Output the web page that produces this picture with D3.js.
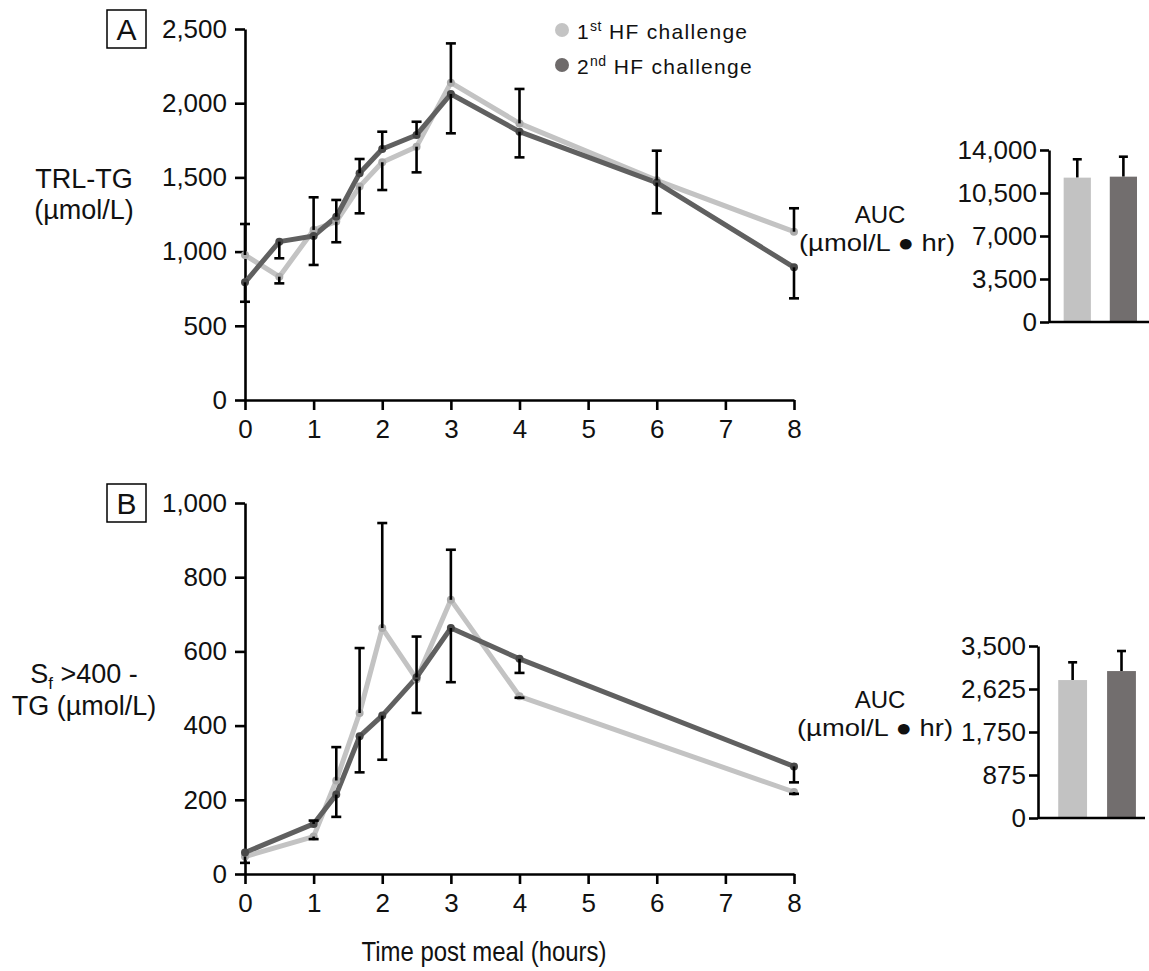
<!DOCTYPE html>
<html>
<head>
<meta charset="utf-8">
<script src="https://cdn.jsdelivr.net/npm/d3@7"></script>
<style>
  html, body { margin: 0; padding: 0; background: #fff; }
  svg { display: block; }
</style>
</head>
<body>
<svg id="chart" width="1149" height="971"></svg>
<script>
// ---------------- DATA ----------------
const seriesNames = ["1st HF challenge", "2nd HF challenge"];

// Panel A: TRL-TG (µmol/L)
const timesA = [0, 0.5, 1, 1.33, 1.67, 2, 2.5, 3, 4, 6, 8];
const trl1 = [977, 831, 1146, 1202, 1438, 1602, 1707, 2138, 1864, 1480, 1134];
const trl2 = [793, 1067, 1105, 1235, 1528, 1691, 1786, 2062, 1808, 1465, 894];
// error bar end values (one-sided bars as drawn)
const trlErrEnd1 = [1186, 786, 1366, 1063, 1258, 1415, 1534, 2403, 2096, 1680, 1292];
const trlErrEnd2 = [662, 955, 910, 1348, 1624, 1808, 1875, 1797, 1635, 1258, 685];
const ticksA = [0, 500, 1000, 1500, 2000, 2500];

// Panel B: Sf >400 - TG (µmol/L)
const timesB = [0, 1, 1.33, 1.67, 2, 2.5, 3, 4, 8];
const sf1 = [47, 101, 252, 434, 663, 525, 739, 479, 221];
const sf2 = [58, 135, 214, 371, 427, 530, 663, 580, 290];
const sfErrEnd1 = [30, 94, 342, 609, 946, 434, 874, 475, 216];
const sfErrEnd2 = [null, 144, 154, 274, 308, 640, 517, 542, 247];
const ticksB = [0, 200, 400, 600, 800, 1000];

const xTicks = [0, 1, 2, 3, 4, 5, 6, 7, 8];

// AUC insets
const aucA = [11750, 11830];
const aucAErrEnd = [13245, 13455];
const aucATicks = [0, 3500, 7000, 10500, 14000];
const aucB = [2807, 2990];
const aucBErrEnd = [3168, 3398];
const aucBTicks = [0, 875, 1750, 2625, 3500];

// ---------------- STYLE ----------------
const FONT = "'Liberation Sans', Arial, Helvetica, sans-serif";
const lineColors = ["#c3c3c3", "#606060"];
const dotColors = ["#acacac", "#484848"];
const barColors = ["#c2c2c2", "#726e6e"];
const legendDot = ["#c4c4c4", "#6e6a6a"];

const svg = d3.select("#chart");
svg.append("rect").attr("width", 1149).attr("height", 971).attr("fill", "#fff");

function styleAxis(g) {
  g.select(".domain").attr("stroke", "#000").attr("stroke-width", 2.6);
  g.selectAll(".tick line").attr("stroke", "#000").attr("stroke-width", 2.6);
  g.selectAll(".tick text").attr("fill", "#111").attr("font-family", FONT).attr("font-size", 26);
}

const x = d3.scaleLinear().domain([0, 8]).range([245, 794]);

function linePanel(times, s1, s2, e1, e2, yDomain, yRange, yTicks) {
  const y = d3.scaleLinear().domain(yDomain).range(yRange);
  const gx = svg.append("g").attr("transform", `translate(0,${yRange[0]})`)
    .call(d3.axisBottom(x).tickValues(xTicks).tickFormat(d3.format("d")).tickSize(10).tickSizeOuter(0).tickPadding(10));
  styleAxis(gx);
  const gy = svg.append("g").attr("transform", `translate(${x(0)},0)`)
    .call(d3.axisLeft(y).tickValues(yTicks).tickFormat(d3.format(",")).tickSize(10).tickSizeOuter(0).tickPadding(8));
  styleAxis(gy);

  const series = [s1, s2];
  const line = d3.line().x((d, i) => x(times[i])).y(d => y(d));
  series.forEach((s, k) => {
    svg.append("path").datum(s).attr("d", line)
      .attr("fill", "none").attr("stroke", lineColors[k]).attr("stroke-width", 5)
      .attr("stroke-linejoin", "round").attr("stroke-linecap", "round");
  });
  series.forEach((s, k) => {
    svg.append("g").selectAll("circle").data(s).join("circle")
      .attr("cx", (d, i) => x(times[i])).attr("cy", d => y(d)).attr("r", 4)
      .attr("fill", dotColors[k]);
  });
  const ends = [e1, e2];
  ends.forEach((e, k) => {
    const g = svg.append("g");
    e.forEach((v, i) => {
      if (v === null) return;
      const cx = x(times[i]);
      g.append("line").attr("x1", cx).attr("x2", cx).attr("y1", y(series[k][i])).attr("y2", y(v))
        .attr("stroke", "#000").attr("stroke-width", 2.6);
      g.append("line").attr("x1", cx - 5).attr("x2", cx + 5).attr("y1", y(v)).attr("y2", y(v))
        .attr("stroke", "#000").attr("stroke-width", 2.6);
    });
  });
}

linePanel(timesA, trl1, trl2, trlErrEnd1, trlErrEnd2, [0, 2500], [400, 29], ticksA);
linePanel(timesB, sf1, sf2, sfErrEnd1, sfErrEnd2, [0, 1000], [874, 503], ticksB);

function barInset(vals, ends, ticks, yRange, xRange, align, axisEnd) {
  const y = d3.scaleLinear().domain([0, ticks[ticks.length - 1]]).range(yRange);
  const xb = d3.scaleBand().domain(seriesNames).range(xRange).paddingInner(0.41).paddingOuter(0.3).align(align);
  vals.forEach((v, i) => {
    const cx = xb(seriesNames[i]) + xb.bandwidth() / 2;
    svg.append("line").attr("x1", cx).attr("x2", cx).attr("y1", y(v)).attr("y2", y(ends[i]))
      .attr("stroke", "#000").attr("stroke-width", 2.6);
    svg.append("line").attr("x1", cx - 4.5).attr("x2", cx + 4.5).attr("y1", y(ends[i])).attr("y2", y(ends[i]))
      .attr("stroke", "#000").attr("stroke-width", 2.6);
  });
  svg.append("g").selectAll("rect").data(vals).join("rect")
    .attr("x", (d, i) => xb(seriesNames[i])).attr("width", xb.bandwidth())
    .attr("y", d => y(d)).attr("height", d => y(0) - y(d))
    .attr("fill", (d, i) => barColors[i]);
  const gy = svg.append("g").attr("transform", `translate(${xRange[0]},0)`)
    .call(d3.axisLeft(y).tickValues(ticks).tickFormat(d3.format(",")).tickSize(9).tickSizeOuter(0).tickPadding(3));
  styleAxis(gy);
  svg.append("line").attr("x1", xRange[0]).attr("x2", axisEnd).attr("y1", y(0)).attr("y2", y(0))
    .attr("stroke", "#000").attr("stroke-width", 2.6);
}

barInset(aucA, aucAErrEnd, aucATicks, [322, 150], [1049, 1150], 0.53, 1149);
barInset(aucB, aucBErrEnd, aucBTicks, [818, 646], [1038, 1145], 0.69, 1145);

// ---------------- TEXT ----------------
function txt(xp, yp, s, size, anchor) {
  return svg.append("text").attr("x", xp).attr("y", yp).attr("font-family", FONT)
    .attr("font-size", size).attr("fill", "#111").attr("text-anchor", anchor || "middle").text(s);
}

// Panel letters
[["A", 10, 29], ["B", 484, 503]].forEach(([l, top, cy]) => {
  svg.append("rect").attr("x", 107).attr("y", top).attr("width", 39).attr("height", 38)
    .attr("fill", "none").attr("stroke", "#000").attr("stroke-width", 1.5);
  txt(126.5, cy + 10.5, l, 30);
});

// Y titles
txt(84, 188, "TRL-TG", 27);
txt(84, 219, "(µmol/L)", 27);
const sfT = svg.append("text").attr("x", 84).attr("y", 683).attr("font-family", FONT)
  .attr("font-size", 27).attr("fill", "#111").attr("text-anchor", "middle");
sfT.append("tspan").text("S");
sfT.append("tspan").attr("font-size", 17).attr("dy", 6).text("f");
sfT.append("tspan").attr("dy", -6).text(" >400 -");
txt(84, 715, "TG (µmol/L)", 27);

// AUC titles
function aucLabel(y1, y2, right) {
  txt(880, y1, "AUC", 24);
  svg.append("text").attr("x", right).attr("y", y2).attr("font-family", FONT)
    .attr("font-size", 24).attr("fill", "#111").attr("text-anchor", "end")
    .attr("textLength", 156).attr("lengthAdjust", "spacingAndGlyphs")
    .text("(µmol/L \u25CF hr)");
}
aucLabel(223, 251, 955);
aucLabel(708, 736, 953);

// X title
txt(484, 961, "Time post meal (hours)", 28)
  .attr("textLength", 245).attr("lengthAdjust", "spacingAndGlyphs");

// Legend
const sups = ["st", "nd"];
const nums = ["1", "2"];
[30, 65].forEach((cy, k) => {
  svg.append("circle").attr("cx", 562).attr("cy", cy).attr("r", 7).attr("fill", legendDot[k]);
  const t = svg.append("text").attr("x", 577).attr("y", cy + 8.5).attr("font-family", FONT)
    .attr("font-size", 21).attr("fill", "#111").attr("letter-spacing", 1.3);
  t.append("tspan").text(nums[k]);
  t.append("tspan").attr("font-size", 14).attr("dy", -8).attr("letter-spacing", 0.5).text(sups[k]);
  t.append("tspan").attr("dy", 8).text(" HF challenge");
});
</script>
</body>
</html>
